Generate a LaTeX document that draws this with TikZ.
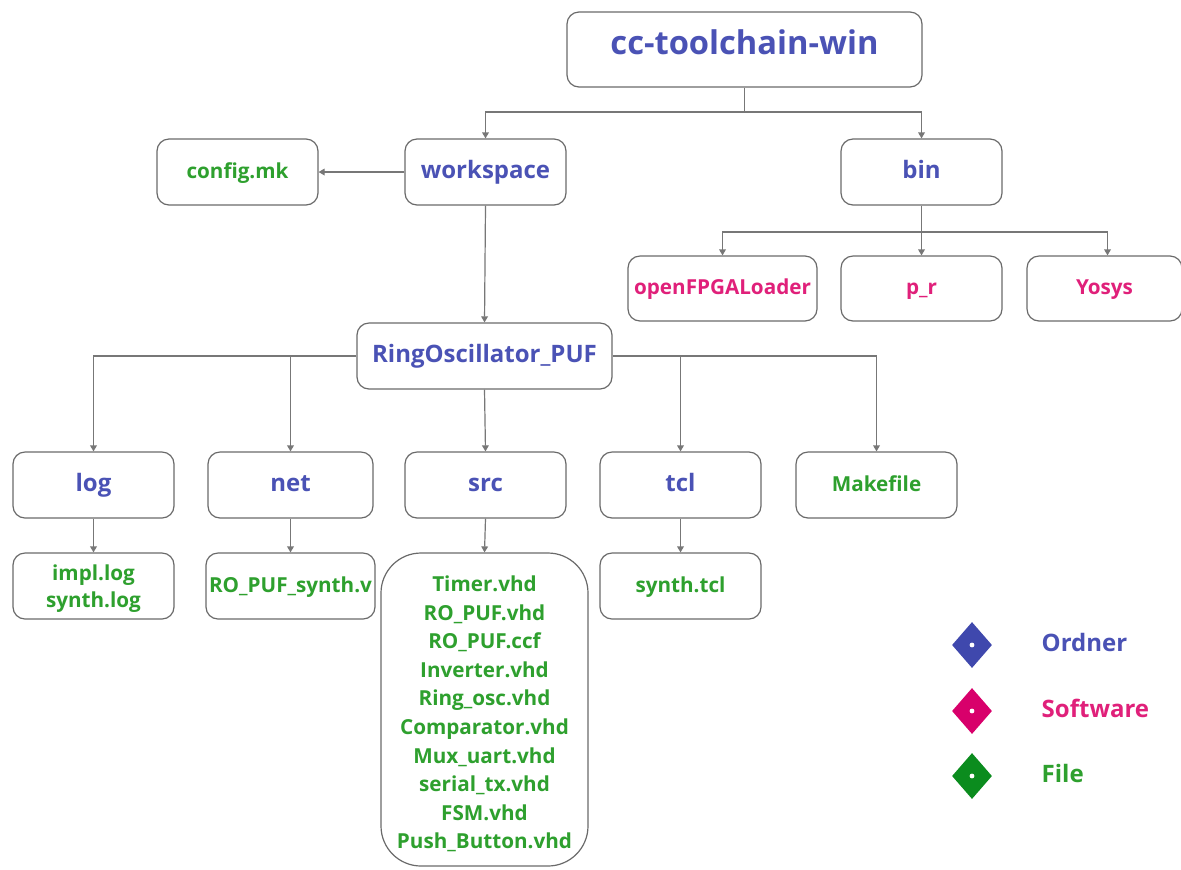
\documentclass[tikz,border=0pt]{standalone}
\usepackage{fontspec}
\setmainfont{Open Sans}[UprightFont=* Bold]
\usetikzlibrary{arrows.meta,shapes.geometric}
\definecolor{ordner}{HTML}{4A52B5}
\definecolor{software}{HTML}{E0207A}
\definecolor{datei}{HTML}{2EA02E}
\definecolor{ordnerD}{HTML}{3F48AD}
\definecolor{softwareD}{HTML}{D8006B}
\definecolor{dateiD}{HTML}{0B8C1E}
\definecolor{rim}{HTML}{6A6A6A}
\definecolor{wire}{HTML}{777777}
\tikzset{
  box/.style={draw=rim, line width=0.9pt, rounded corners=9pt, fill=white,
    inner sep=0pt, align=center},
  oneline/.style={text height=1.02em, text depth=0.05em},
  dirbox/.style={box, oneline, text=ordner, font=\fontsize{18}{22}\selectfont},
  swbox/.style={box, oneline, text=software, font=\fontsize{15.5}{20}\selectfont},
  filebox/.style={box, oneline, text=datei, font=\fontsize{15.5}{20}\selectfont},
  listbox/.style={box, text=datei},
  wh/.style 2 args={minimum width={#1*0.75pt}, minimum height={#2*0.75pt}},
  conn/.style={draw=wire, line width=0.9pt},
  arr/.style={conn, -{Triangle[width=5pt,length=4.5pt]}},
  legdia/.style={diamond, inner sep=0pt, minimum width={40*0.75pt},
    minimum height={46*0.75pt}},
  legtxt/.style={anchor=west, oneline, font=\fontsize{18}{22}\selectfont},
}
\begin{document}
\begin{tikzpicture}[x=0.75pt, y=-0.75pt]
\useasboundingbox[fill=white] (0,0) rectangle (1181,869);

% top level
\node[dirbox, wh={355}{75}, font=\fontsize{24.5}{28}\selectfont,
  text height=0.76em, text depth=0em] (root) at (744.5,49.5) {cc-toolchain-win};
\node[dirbox, wh={161}{66}] (ws) at (485.5,172) {workspace};
\node[filebox, wh={161}{66}] (cfg) at (237.5,172) {config.mk};
\node[dirbox, wh={161}{66}] (bin) at (921.5,172) {bin};

% tools
\node[swbox, wh={189}{65}] (ofl) at (722.5,288.5) {openFPGALoader};
\node[swbox, wh={161}{65}] (pr) at (921.5,288.5) {p\_r};
\node[swbox, wh={155}{65}] (yosys) at (1104.5,288.5) {Yosys};

% project
\node[dirbox, wh={255}{66}] (ro) at (484.5,356) {RingOscillator\_PUF};
\node[dirbox, wh={161}{66}] (log) at (93.5,485) {log};
\node[dirbox, wh={165}{66}] (net) at (290.5,485) {net};
\node[dirbox, wh={161}{66}] (src) at (485.5,485) {src};
\node[dirbox, wh={161}{66}] (tcl) at (680.5,485) {tcl};
\node[filebox, wh={161}{66}] (mk) at (876.5,485) {Makefile};

% files
\node[listbox, wh={161}{66}, font=\fontsize{15.5}{20.2}\selectfont] (logf) at (93.5,586) {\rule{0pt}{15.5pt}impl.log\\synth.log};
\node[filebox, wh={169}{66}] (netf) at (290.5,586) {RO\_PUF\_synth.v};
\node[listbox, wh={207}{313}, rounded corners=30pt, font=\fontsize{15.5}{21.45}\selectfont] (srcf) at (484.5,709.5) {\rule{0pt}{18.5pt}Timer.vhd\\RO\_PUF.vhd\\RO\_PUF.ccf\\Inverter.vhd\\Ring\_osc.vhd\\Comparator.vhd\\Mux\_uart.vhd\\serial\_tx.vhd\\FSM.vhd\\Push\_Button.vhd};
\node[filebox, wh={161}{66}] (tclf) at (680.5,586) {synth.tcl};

% connectors
\coordinate (rj) at (744.5,112);
\draw[conn] (root.south) -- (rj);
\draw[arr] (rj) -| (ws.north);
\draw[arr] (rj) -| (bin.north);
\draw[arr] (ws.west) -- (cfg.east);
\draw[arr] (ws.south) -- (ro.north);

\coordinate (bj) at (921.5,232);
\draw[conn] (bin.south) -- (bj);
\draw[arr] (bj) -| (ofl.north);
\draw[arr] (bj) -- (pr.north);
\draw[arr] (bj) -| ([xshift=2.25pt]yosys.north);

\draw[arr] (ro.west) -| (log.north);
\draw[arr] (ro.west -| net.north) -- (net.north);
\draw[arr] (ro.south) -- (src.north);
\draw[arr] (ro.east) -| (mk.north);
\draw[arr] (ro.east -| tcl.north) -- (tcl.north);

\draw[arr] (log.south) -- (logf.north);
\draw[arr] (net.south) -- (netf.north);
\draw[arr] (src.south) -- (srcf.north);
\draw[arr] (tcl.south) -- (tclf.north);

% legend
\node[legdia, fill=ordnerD] (lo) at (972,645) {};
\node[legdia, fill=softwareD] (ls) at (972,711) {};
\node[legdia, fill=dateiD] (lf) at (972,776) {};
\foreach \d in {lo,ls,lf} \fill[white] (\d.center) circle (1.8pt);
\node[legtxt, text=ordner] (to) at (1037,645) {Ordner};
\node[legtxt, text=software] (ts) at (1037,711) {Software};
\node[legtxt, text=datei] (tf) at (1037,776) {File};
\end{tikzpicture}
\end{document}
